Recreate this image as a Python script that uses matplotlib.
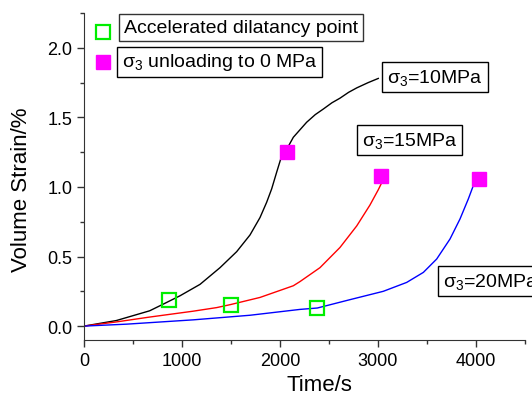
import matplotlib
matplotlib.use('Agg')
import matplotlib.pyplot as plt
from matplotlib.ticker import MultipleLocator

plt.rcParams['font.family'] = ['Liberation Sans', 'DejaVu Sans']
plt.rcParams['mathtext.fontset'] = 'custom'
plt.rcParams['mathtext.rm'] = 'Liberation Sans'
plt.rcParams['mathtext.it'] = 'Liberation Sans'

# curves
t10 = [0, 330, 670, 809, 980, 1184, 1388, 1558, 1694, 1796, 1864, 1915, 1966, 2007, 2068,
       2136, 2272, 2360, 2442, 2530, 2612, 2700, 2783, 2900, 3003]
v10 = [0, 0.04, 0.11, 0.158, 0.218, 0.30, 0.42, 0.535, 0.655, 0.78, 0.89, 0.986, 1.106, 1.20, 1.27,
       1.357, 1.465, 1.52, 1.56, 1.605, 1.638, 1.68, 1.712, 1.75, 1.78]

t15 = [0, 330, 670, 1112, 1354, 1497, 1796, 2136, 2204, 2408, 2612, 2783, 2918, 3003, 3038]
v15 = [0, 0.03, 0.065, 0.107, 0.133, 0.155, 0.206, 0.29, 0.32, 0.42, 0.565, 0.72, 0.87, 0.98, 1.03]

t20 = [0, 435, 1116, 1694, 2204, 2381, 2714, 3054, 3293, 3463, 3599, 3735, 3837, 3922, 3973]
v20 = [0, 0.014, 0.045, 0.078, 0.12, 0.13, 0.19, 0.25, 0.314, 0.386, 0.482, 0.626, 0.77, 0.914, 1.01]

# accelerated dilatancy points
dil_t = [864, 1497, 2381]
dil_v = [0.19, 0.155, 0.13]

# sigma3 unloading points
unl_t = [2070, 3031, 4027]
unl_v = [1.25, 1.08, 1.06]

labels = ['σ$_3$=10MPa', 'σ$_3$=15MPa', 'σ$_3$=20MPa']
label_t = [3095, 2834, 3660]
label_v = [1.79, 1.336, 0.326]

fig = plt.figure(figsize=(5.32, 4.02), dpi=100)
ax = fig.add_axes([0.1579, 0.1517, 0.8289, 0.8134])

ax.plot(t10, v10, color='black', lw=1)
ax.plot(t15, v15, color='red', lw=1)
ax.plot(t20, v20, color='blue', lw=1)

ax.plot(dil_t, dil_v, ls='none', marker='s', ms=10, mfc='none', mec='#00ee00', mew=1.6)
ax.plot(unl_t, unl_v, ls='none', marker='s', ms=10, mfc='magenta', mec='magenta')

for lab, x, y in zip(labels, label_t, label_v):
    ax.text(x, y, lab, fontsize=14, ha='left', va='center',
            bbox=dict(boxstyle='square,pad=0.25', fc='white', ec='black', lw=1))

# legend, drawn by hand
ax.plot([0.0424], [0.9409], transform=ax.transAxes, ls='none', marker='s', ms=10,
        mfc='none', mec='#00ee00', mew=1.6, clip_on=False)
ax.plot([0.0424], [0.849], transform=ax.transAxes, ls='none', marker='s', ms=10,
        mfc='magenta', mec='magenta', clip_on=False)
ax.text(0.0907, 0.9557, 'Accelerated dilatancy point', transform=ax.transAxes,
        fontsize=14, va='center', ha='left',
        bbox=dict(boxstyle='square,pad=0.25', fc='white', ec='#333333', lw=1))
ax.text(0.0855, 0.8505, 'σ$_3$ unloading to 0 MPa', transform=ax.transAxes,
        fontsize=14, va='center', ha='left',
        bbox=dict(boxstyle='square,pad=0.25', fc='white', ec='black', lw=1))

ax.set_xlim(0, 4500)
ax.set_ylim(-0.1, 2.25)
ax.xaxis.set_major_locator(MultipleLocator(1000))
ax.xaxis.set_minor_locator(MultipleLocator(500))
ax.yaxis.set_major_locator(MultipleLocator(0.5))
ax.yaxis.set_minor_locator(MultipleLocator(0.25))
ax.set_xticks([0, 1000, 2000, 3000, 4000])
ax.tick_params(which='major', direction='out', length=5, width=1, labelsize=13, color='#333333')
ax.tick_params(which='minor', direction='out', length=3, width=1, color='#333333')

ax.spines['top'].set_visible(False)
ax.spines['right'].set_visible(False)
ax.spines['left'].set_color('#333333')
ax.spines['bottom'].set_color('#333333')

ax.set_xlabel('Time/s', fontsize=16)
ax.set_ylabel('Volume Strain/%', fontsize=16)
ax.xaxis.set_label_coords(0.535, -0.105)
ax.yaxis.set_label_coords(-0.118, 0.462)

fig.savefig('out.png', dpi=100)
